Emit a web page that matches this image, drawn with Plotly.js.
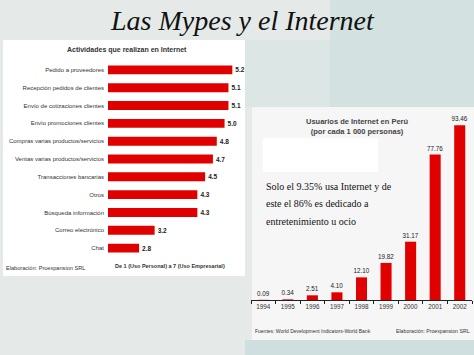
<!DOCTYPE html>
<html><head><meta charset="utf-8">
<script src="https://cdn.plot.ly/plotly-3.0.1.min.js"></script>
<style>html,body{margin:0;padding:0;}#c{width:474px;height:355px;}</style>
</head><body><div id="c"></div>
<script>
// Left chart data
const activities = ["Pedido a proveedores","Recepción pedidos de clientes","Envío de cotizaciones clientes","Envío promociones clientes","Compras varias productos/servicios","Ventas varias productos/servicios","Transacciones bancarias","Otros","Búsqueda información","Correo electrónico","Chat"];
const activityScores = [5.2,5.1,5.1,5.0,4.8,4.7,4.5,4.3,4.3,3.2,2.8];
const activityLabels = ["5.2","5.1","5.1","5.0","4.8","4.7","4.5","4.3","4.3","3.2","2.8"];
// Right chart data
const years = ["1994","1995","1996","1997","1998","1999","2000","2001","2002"];
const users = [0.09,0.34,2.51,4.10,12.10,19.82,31.17,77.76,93.46];
const userLabels = ["0.09","0.34","2.51","4.10","12.10","19.82","31.17","77.76","93.46"];
const noteLines = ["Solo el 9.35% usa Internet y de","este el 86% es dedicado a","entretenimiento u ocio"];

const W=474,H=355;
const px=x=>x/W, py=y=>(H-y)/H;
const sans="'Liberation Sans',Arial,sans-serif";
const serif="'Liberation Serif','Times New Roman',serif";
const red="#e10000";

const traces=[
 {type:'bar',orientation:'h',x:activityScores,y:activities,xaxis:'x',yaxis:'y',
  marker:{color:red},width:0.5,text:activityLabels,textposition:'outside',
  textfont:{family:sans,size:6.5,color:'#222',weight:'bold'},constraintext:'none',cliponaxis:false,hoverinfo:'none'},
 {type:'bar',x:years,y:users,xaxis:'x2',yaxis:'y2',marker:{color:red},width:0.45,
  text:userLabels,textposition:'outside',textfont:{family:sans,size:6.3,color:'#222'},
  constraintext:'none',cliponaxis:false,hoverinfo:'none'}
];

const annotations=[
  {text:'Las Mypes y el Internet',xref:'paper',yref:'paper',x:px(243),y:py(20),xanchor:'center',yanchor:'middle',showarrow:false,
   font:{family:serif,size:28,color:'#111',style:'italic'}},
  {text:'<b>Actividades que realizan en Internet</b>',xref:'paper',yref:'paper',x:px(127),y:py(50),xanchor:'center',yanchor:'middle',showarrow:false,
   font:{family:sans,size:7,color:'#333'}},
  {text:'<b>De 1 (Uso Personal) a 7 (Uso Empresarial)</b>',xref:'paper',yref:'paper',x:px(170),y:py(266),xanchor:'center',yanchor:'middle',showarrow:false,
   font:{family:sans,size:5.5,color:'#333'}},
  {text:'Elaboración: Proexpansion SRL',xref:'paper',yref:'paper',x:px(4),y:py(268),xanchor:'left',yanchor:'middle',showarrow:false,
   font:{family:sans,size:5.6,color:'#333'}},
  {text:'<b>Usuarios de Internet en Perú<br>(por cada 1 000 personas)</b>',xref:'paper',yref:'paper',x:px(357),y:py(127),xanchor:'center',yanchor:'middle',showarrow:false,
   font:{family:sans,size:7.5,color:'#444'}},
  {text:'Fuentes: World Development Indicators-World Bank',xref:'paper',yref:'paper',x:px(253),y:py(331),xanchor:'left',yanchor:'middle',showarrow:false,
   font:{family:sans,size:5,color:'#333'}},
  {text:'Elaboración: Proexpansion SRL',xref:'paper',yref:'paper',x:px(472),y:py(331),xanchor:'right',yanchor:'middle',showarrow:false,
   font:{family:sans,size:5.2,color:'#333'}}
];
const noteY=[186,203.5,221];
noteLines.forEach((t,i)=>annotations.push({text:t,xref:'paper',yref:'paper',x:px(264),y:py(noteY[i]),xanchor:'left',yanchor:'middle',showarrow:false,
   font:{family:serif,size:10,color:'#111'}}));

const layout={
 width:W,height:H,margin:{l:0,r:0,t:0,b:0},paper_bgcolor:'#e5eae9',plot_bgcolor:'rgba(0,0,0,0)',
 showlegend:false,
 xaxis:{domain:[px(108),px(244)],range:[2,5.5],showgrid:false,zeroline:false,showticklabels:false,showline:false,fixedrange:true},
 yaxis:{domain:[py(257),py(61)],autorange:'reversed',type:'category',showgrid:false,zeroline:false,ticks:'',
  tickfont:{family:sans,size:6,color:'#333'},ticklabelstandoff:3,fixedrange:true},
 xaxis2:{domain:[px(251),px(472)],type:'category',anchor:'y2',showgrid:false,zeroline:false,showline:true,linecolor:'#222',linewidth:1,
  ticks:'outside',tickson:'boundaries',ticklen:3,tickcolor:'#222',tickangle:0,tickfont:{family:sans,size:6.3,color:'#333'},fixedrange:true},
 yaxis2:{domain:[py(300),py(113)],range:[0,100],anchor:'x2',showgrid:false,zeroline:false,showticklabels:false,showline:false,fixedrange:true},
 shapes:[
  {type:'rect',xref:'paper',yref:'paper',x0:px(330),x1:1,y0:py(107),y1:1,fillcolor:'#d3e2e0',line:{width:0},layer:'below'},
  {type:'rect',xref:'paper',yref:'paper',x0:px(245),x1:px(330),y0:py(107),y1:py(40),fillcolor:'#dce6e4',line:{width:0},layer:'below'},
  {type:'rect',xref:'paper',yref:'paper',x0:px(245),x1:1,y0:0,y1:py(340),fillcolor:'#cfdfe0',line:{width:0},layer:'below'},
  {type:'rect',xref:'paper',yref:'paper',x0:px(3),x1:px(245),y0:py(276),y1:py(40),fillcolor:'#ffffff',line:{width:0},layer:'below'},
  {type:'rect',xref:'paper',yref:'paper',x0:px(252),x1:1,y0:py(340),y1:py(107),fillcolor:'#f6f6f6',line:{width:0},layer:'below'},
  {type:'rect',xref:'paper',yref:'paper',x0:px(263),x1:px(378),y0:py(172),y1:py(138),fillcolor:'#ffffff',line:{width:0},layer:'below'}
 ],
 annotations:annotations
};
Plotly.newPlot('c',traces,layout,{displayModeBar:false,staticPlot:true});
</script></body></html>
